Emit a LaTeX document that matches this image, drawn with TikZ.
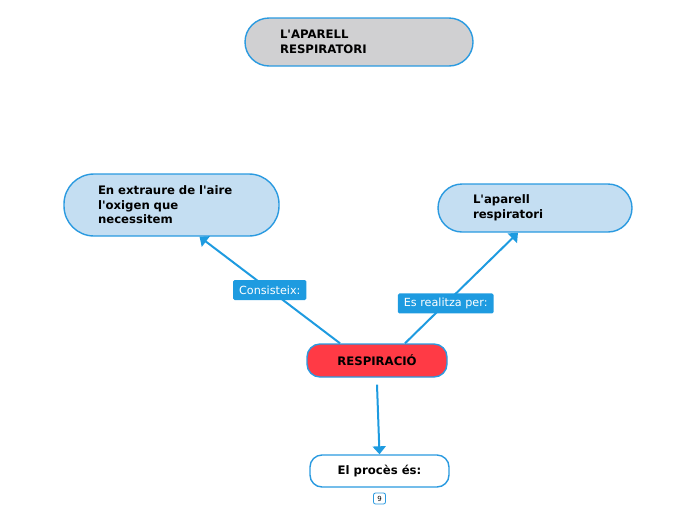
\documentclass[tikz,border=0pt]{standalone}
\usepackage{fontspec}
\setmainfont{DejaVu Sans}
\usetikzlibrary{arrows.meta}
\definecolor{mmblue}{HTML}{1E9BE0}
\definecolor{mmline}{HTML}{2A9AE0}
\definecolor{mmgray}{HTML}{D0D0D2}
\definecolor{mmlight}{HTML}{C4DEF2}
\definecolor{mmred}{HTML}{FF3A45}
\newcommand{\apos}{\textquotesingle}
\tikzset{
    topic/.style = {
        draw = mmline,
        line width = 1.4pt,
        font = \bfseries\fontsize{11.7}{14.5}\selectfont,
        align = left,
        inner ysep = 0pt,
        },
    central/.style = {
        topic,
        fill = mmgray,
        rounded corners = 24pt,
        },
    sub/.style = {
        topic,
        fill = mmlight,
        },
    main/.style = {
        topic,
        fill = mmred,
        align = center,
        rounded corners = 13pt,
        },
    step box/.style = {
        topic,
        fill = white,
        align = center,
        rounded corners = 12pt,
        },
    link/.style = {
        draw = mmblue,
        line width = 2pt,
        -{Triangle[width=13pt,length=8pt]},
        },
    link label/.style = {
        fill = mmblue,
        text = white,
        rounded corners = 1.5pt,
        font = \fontsize{11.2}{12}\selectfont,
        inner xsep = 6pt,
        minimum height = 20pt,
        },
    badge/.style = {
        draw = mmline,
        line width = 0.8pt,
        rounded corners = 2pt,
        font = \fontsize{7}{8}\selectfont,
        minimum width = 12pt,
        minimum height = 11pt,
        inner sep = 1pt,
        },
}
\begin{document}
\begin{tikzpicture}[x=1pt, y=-1pt]
    \useasboundingbox (0,0) rectangle (696,520);

    \node[central, inner xsep=35pt, text width=158pt, minimum height=48pt] (title) at (359,42) {L\apos APARELL\\RESPIRATORI};
    \node[sub, rounded corners=30pt, inner xsep=34pt, text width=147pt, minimum height=62pt] (extract) at (171.5,205) {En extraure de l\apos aire\\l\apos oxigen que\\necessitem};
    \node[sub, rounded corners=24pt, inner xsep=35pt, text width=124pt, minimum height=48pt] (system) at (535,208) {L\apos aparell\\respiratori};
    \node[main, minimum width=140pt, minimum height=33pt] (resp) at (377,360.5) {RESPIRACIÓ};
    \node[step box, minimum width=139pt, minimum height=32pt] (process) at (379.5,471) {El procès és:};
    \node[badge] (count) at (379.5,498.5) {9};

    \draw[link] ([xshift=-37pt]resp.north) -- ([xshift=28pt]extract.south)
        node[link label, pos=0.5] {Consisteix:};
    \draw[link] ([xshift=28pt]resp.north) -- ([xshift=-17pt]system.south)
        node[link label, pos=0.36] {Es realitza per:};
    \draw[link] ([yshift=-7pt]resp.south) -- (process.north);
\end{tikzpicture}
\end{document}
